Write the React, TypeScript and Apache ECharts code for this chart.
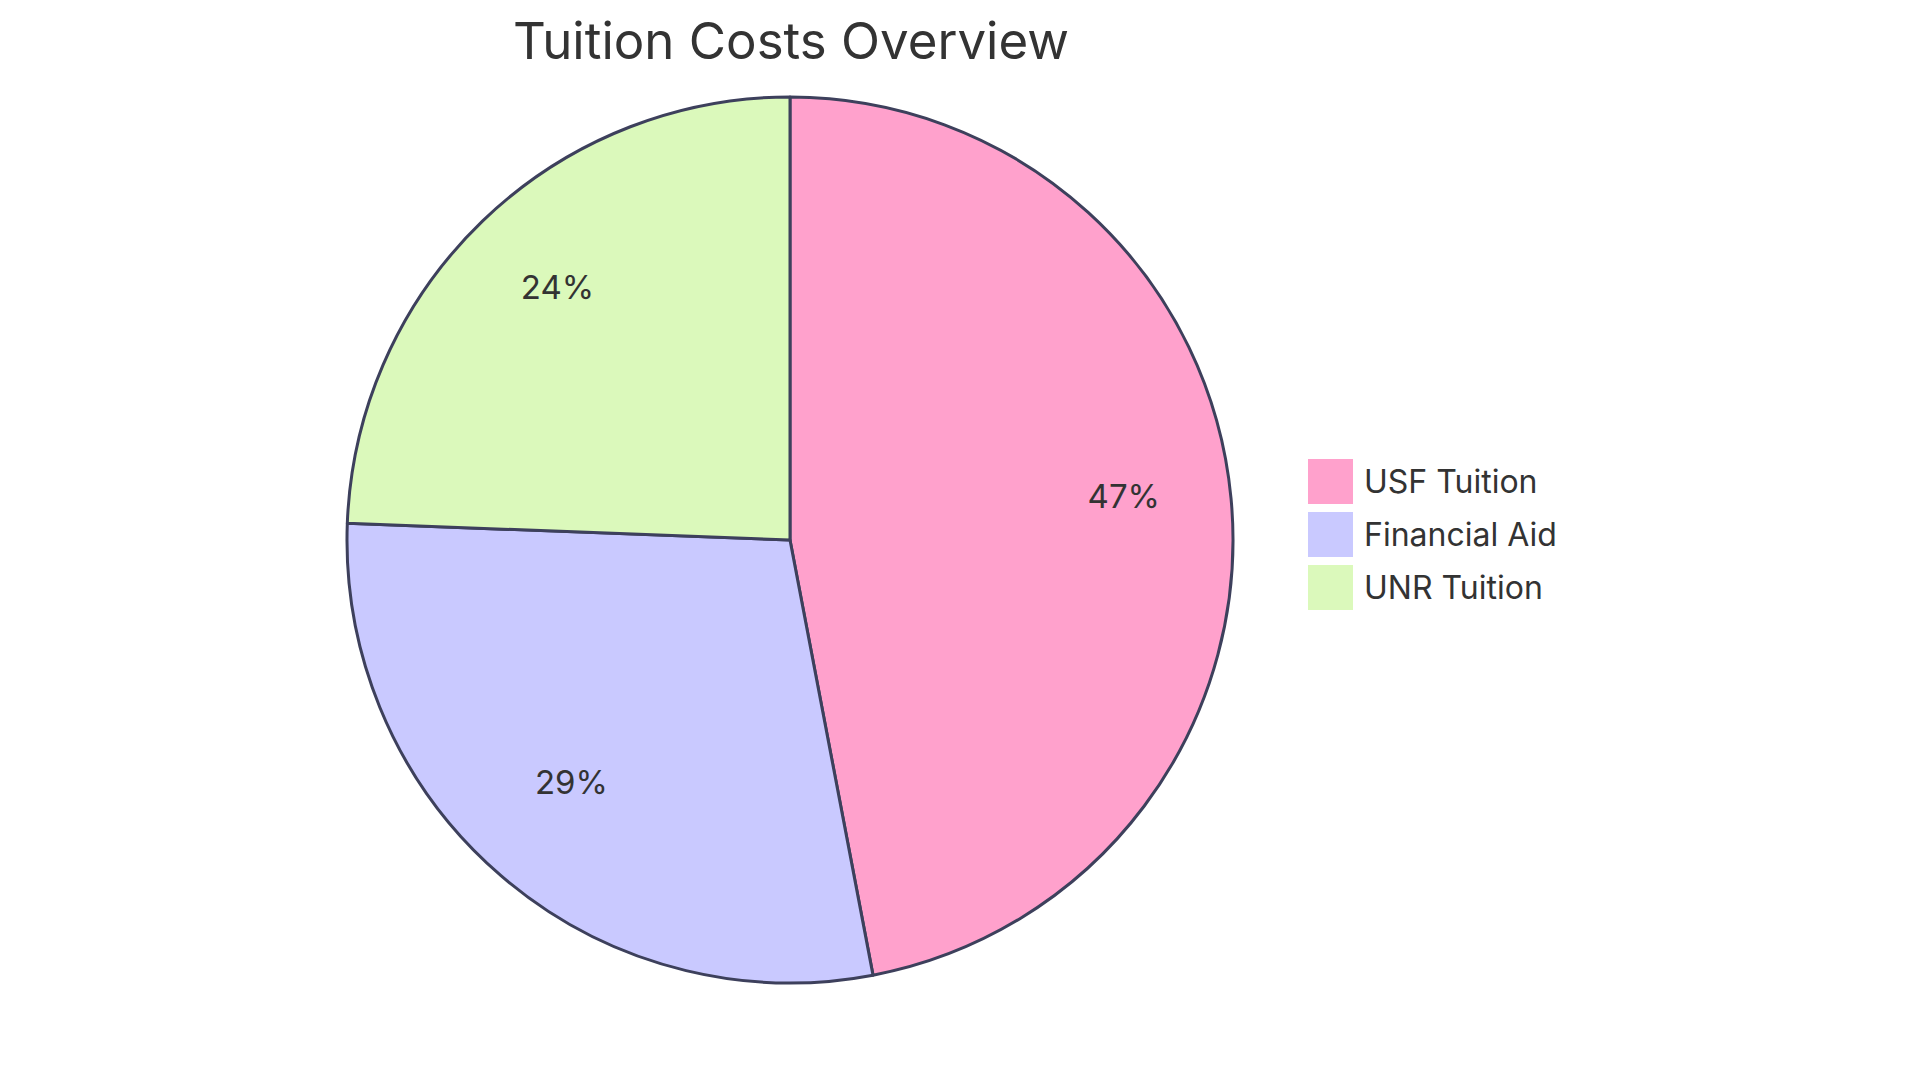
import React, { useEffect, useRef } from 'react';
import * as echarts from 'echarts';

// 数据
const categories = ['USF Tuition', 'Financial Aid', 'UNR Tuition'];
const shares = [47.0, 28.6, 24.4];
const sliceColors = ['#FFA1CC', '#C9C9FF', '#DBF9BB'];

const FONT = 'Inter, "Noto Sans", sans-serif';
const STROKE = '#3d405c';

const App: React.FC = () => {
  const chartRef = useRef<HTMLDivElement>(null);

  useEffect(() => {
    document.body.style.margin = '0';
    if (!chartRef.current) return;
    const chart = echarts.init(chartRef.current, undefined, { renderer: 'svg' });

    const pieData = categories.map((name, i) => ({
      name,
      value: shares[i],
      itemStyle: { color: sliceColors[i] },
    }));

    chart.setOption({
      animation: false,
      backgroundColor: '#ffffff',
      title: {
        text: 'Tuition Costs Overview',
        left: 786,
        top: 10,
        textAlign: 'center',
        textStyle: { color: '#333333', fontSize: 51, fontWeight: 'normal', fontFamily: FONT },
      },
      legend: {
        orient: 'vertical',
        left: 1308,
        top: 459,
        padding: 0,
        itemWidth: 45,
        itemHeight: 45,
        itemGap: 8,
        icon: 'rect',
        data: categories,
        itemStyle: { borderWidth: 0 },
        textStyle: { color: '#333333', fontSize: 32, fontFamily: FONT, padding: [0, 0, 0, 6] },
      },
      series: [
        {
          name: 'slices',
          type: 'pie',
          center: [790, 540],
          radius: [0, 443],
          startAngle: 90,
          clockwise: true,
          silent: true,
          label: { show: false },
          labelLine: { show: false },
          itemStyle: { borderColor: STROKE, borderWidth: 3 },
          emphasis: { disabled: true },
          data: pieData,
        },
        {
          // 标签层：透明环，标签落在 0.75 半径处，文字基线对齐该点
          name: 'labels',
          type: 'pie',
          center: [790, 540],
          radius: [221.5, 443],
          startAngle: 90,
          clockwise: true,
          silent: true,
          itemStyle: { color: 'transparent', borderWidth: 0 },
          emphasis: { disabled: true },
          labelLine: { show: false },
          label: {
            show: true,
            position: 'inside',
            formatter: (p: any) => `{v|${Math.round(p.percent)}%}`,
            rich: {
              v: {
                color: '#333333',
                fontSize: 33,
                fontFamily: FONT,
                padding: [0, 0, 24, 0],
              },
            },
          },
          data: categories.map((name, i) => ({ name, value: shares[i] })),
        },
      ],
    });

    return () => {
      chart.dispose();
    };
  }, []);

  return <div ref={chartRef} style={{ width: 1920, height: 1083 }} />;
};

export default App;
